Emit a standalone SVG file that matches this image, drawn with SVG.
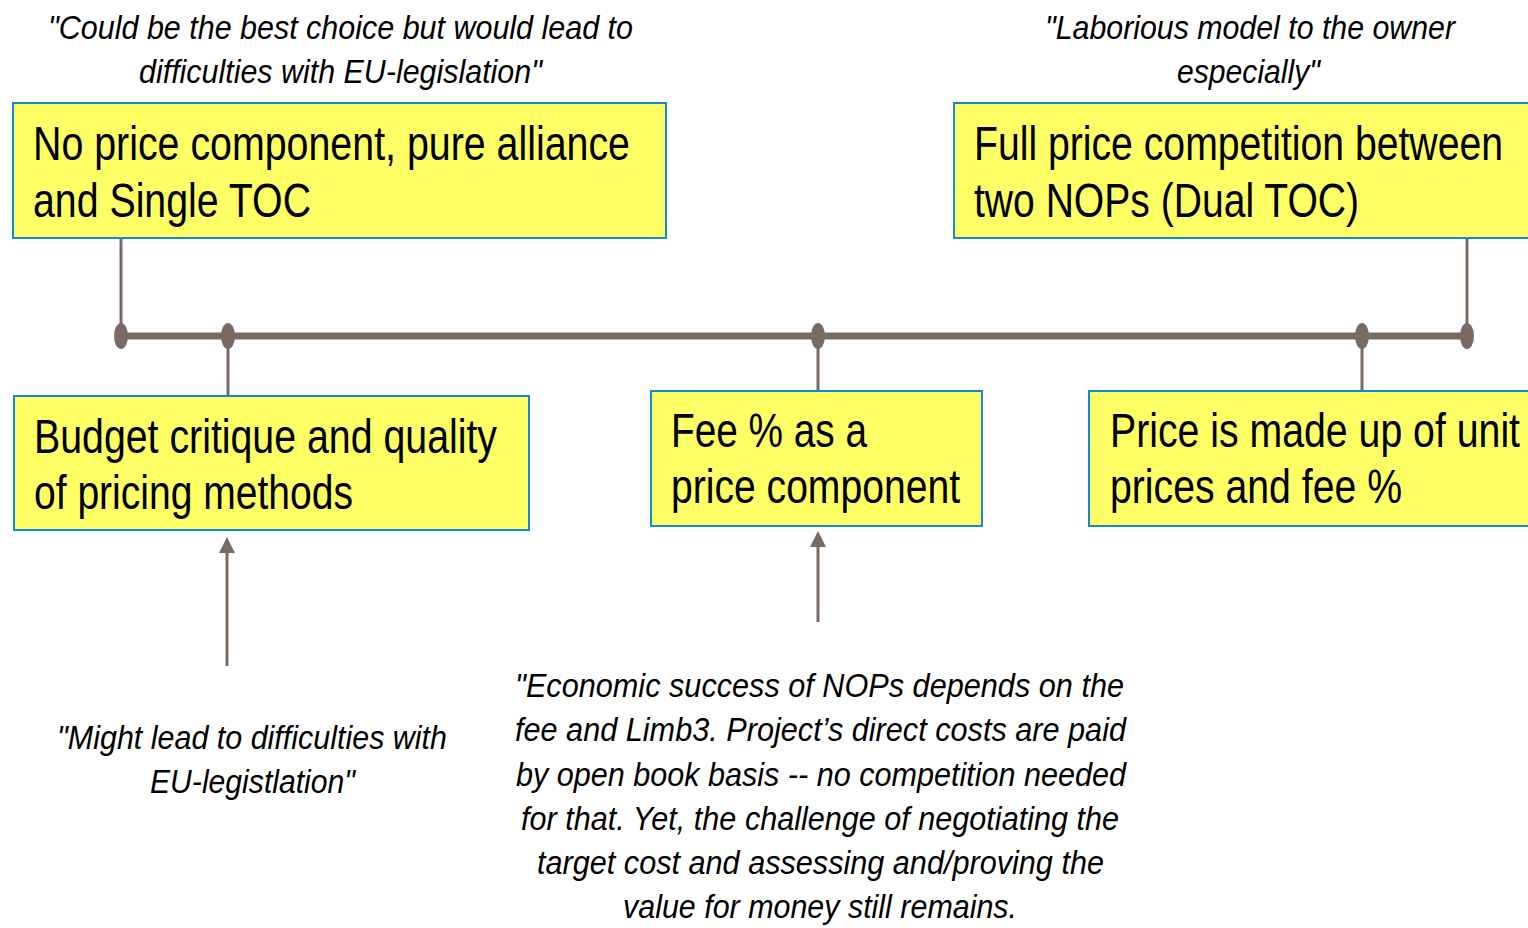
<svg xmlns="http://www.w3.org/2000/svg" width="1528" height="928" viewBox="0 0 1528 928">
  <style>
    .box { fill: #FFFF66; stroke: #1689D6; stroke-width: 2; }
    .lbl { font-family: "Liberation Sans Narrow", "Arial Narrow", "Liberation Sans", sans-serif; font-size: 48px; fill: #000; }
    .quote { font-family: "Liberation Sans Narrow", "Arial Narrow", "Liberation Sans", sans-serif; font-size: 34px; font-style: italic; fill: #000; }
    .axis { stroke: #786B64; stroke-width: 7; fill: none; }
    .tick { stroke: #786B64; stroke-width: 3; fill: none; }
    .dot { fill: #786B64; }
    .arrow { stroke: #786B64; stroke-width: 3; fill: none; }
    .head { fill: #786B64; }
  </style>

  <rect width="1528" height="928" fill="#FFFFFF"/>

  <!-- scale connectors -->
  <g id="connectors">
    <line class="axis" x1="121" y1="336" x2="1467" y2="336"/>
    <line class="tick" x1="121" y1="238" x2="121" y2="336"/>
    <line class="tick" x1="228" y1="336" x2="228" y2="396"/>
    <line class="tick" x1="818" y1="336" x2="818" y2="391"/>
    <line class="tick" x1="1362" y1="336" x2="1362" y2="391"/>
    <line class="tick" x1="1467" y1="238" x2="1467" y2="336"/>
    <ellipse class="dot" cx="121" cy="336" rx="7" ry="13"/>
    <ellipse class="dot" cx="228" cy="336" rx="7" ry="13"/>
    <ellipse class="dot" cx="818" cy="336" rx="7" ry="13"/>
    <ellipse class="dot" cx="1362" cy="336" rx="7" ry="13"/>
    <ellipse class="dot" cx="1467" cy="336" rx="7" ry="13"/>
    <line class="arrow" x1="227" y1="666" x2="227" y2="550"/>
    <path class="head" d="M227,537 L235,553 L219,553 z"/>
    <line class="arrow" x1="818" y1="622" x2="818" y2="544"/>
    <path class="head" d="M818,531 L826,547 L810,547 z"/>
  </g>

  <g id="node-no-price">
    <rect class="box" x="13" y="103" width="653" height="135"/>
    <text class="lbl" x="33" y="160" textLength="597" lengthAdjust="spacingAndGlyphs">No price component, pure alliance</text>
    <text class="lbl" x="33" y="217" textLength="278" lengthAdjust="spacingAndGlyphs">and Single TOC</text>
  </g>

  <g id="node-full-price">
    <rect class="box" x="954" y="103" width="576" height="135"/>
    <text class="lbl" x="974" y="160" textLength="529" lengthAdjust="spacingAndGlyphs">Full price competition between</text>
    <text class="lbl" x="974" y="217" textLength="385" lengthAdjust="spacingAndGlyphs">two NOPs (Dual TOC)</text>
  </g>

  <g id="node-budget">
    <rect class="box" x="14" y="396" width="515" height="134"/>
    <text class="lbl" x="34" y="453" textLength="463" lengthAdjust="spacingAndGlyphs">Budget critique and quality</text>
    <text class="lbl" x="34" y="509" textLength="319" lengthAdjust="spacingAndGlyphs">of pricing methods</text>
  </g>

  <g id="node-fee">
    <rect class="box" x="651" y="391" width="331" height="135"/>
    <text class="lbl" x="671" y="447" textLength="196" lengthAdjust="spacingAndGlyphs">Fee % as a</text>
    <text class="lbl" x="671" y="503" textLength="289" lengthAdjust="spacingAndGlyphs">price component</text>
  </g>

  <g id="node-unit-prices">
    <rect class="box" x="1089" y="391" width="441" height="135"/>
    <text class="lbl" x="1110" y="447" textLength="410" lengthAdjust="spacingAndGlyphs">Price is made up of unit</text>
    <text class="lbl" x="1110" y="503" textLength="292" lengthAdjust="spacingAndGlyphs">prices and fee %</text>
  </g>

  <g id="quote-top-left">
    <text class="quote" x="48" y="39" textLength="585" lengthAdjust="spacingAndGlyphs">"Could be the best choice but would lead to</text>
    <text class="quote" x="139" y="83" textLength="403" lengthAdjust="spacingAndGlyphs">difficulties with EU-legislation"</text>
  </g>

  <g id="quote-top-right">
    <text class="quote" x="1045" y="39" textLength="410" lengthAdjust="spacingAndGlyphs">"Laborious model to the owner</text>
    <text class="quote" x="1177" y="83" textLength="143" lengthAdjust="spacingAndGlyphs">especially"</text>
  </g>

  <g id="quote-bottom-left">
    <text class="quote" x="57" y="749" textLength="390" lengthAdjust="spacingAndGlyphs">"Might lead to difficulties with</text>
    <text class="quote" x="150" y="793" textLength="205" lengthAdjust="spacingAndGlyphs">EU-legistlation"</text>
  </g>

  <g id="quote-bottom-center">
    <text class="quote" x="515" y="697" textLength="609" lengthAdjust="spacingAndGlyphs">"Economic success of NOPs depends on the</text>
    <text class="quote" x="515" y="741" textLength="611" lengthAdjust="spacingAndGlyphs">fee and Limb3. Project’s direct costs are paid</text>
    <text class="quote" x="516" y="786" textLength="610" lengthAdjust="spacingAndGlyphs">by open book basis -- no competition needed</text>
    <text class="quote" x="521" y="830" textLength="598" lengthAdjust="spacingAndGlyphs">for that. Yet, the challenge of negotiating the</text>
    <text class="quote" x="537" y="874" textLength="567" lengthAdjust="spacingAndGlyphs">target cost and assessing and/proving the</text>
    <text class="quote" x="623" y="918" textLength="394" lengthAdjust="spacingAndGlyphs">value for money still remains.</text>
  </g>
</svg>
